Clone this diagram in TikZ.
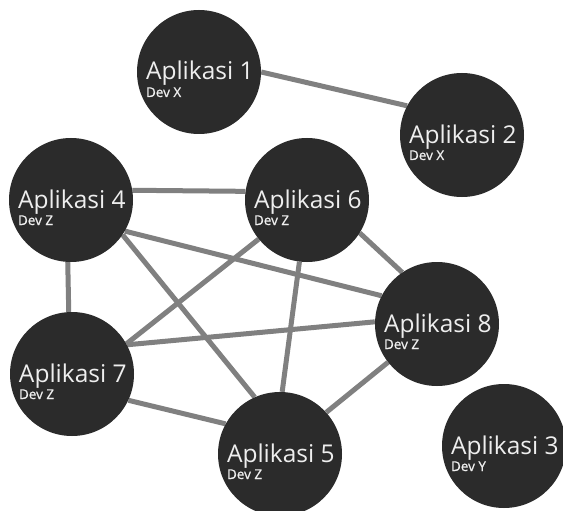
\documentclass[tikz,border=0pt]{standalone}
\usepackage{fontspec}
\setmainfont{Open Sans}
\newfontfamily\devfont[FakeBold=1]{Open Sans}
\pgfdeclarelayer{paper}
\pgfdeclarelayer{bg}
\pgfsetlayers{paper,bg,main}
\definecolor{nodefill}{HTML}{2B2B2B}
\definecolor{edgecol}{HTML}{808080}
\definecolor{txtcol}{HTML}{EEEEEE}
\begin{document}
\begin{tikzpicture}[x=1pt,y=-1pt,
  app/.style={circle,fill=nodefill,draw=none,minimum size=124pt,inner sep=0pt},
  apptext/.style={anchor=base west,inner sep=0pt,text=txtcol,font=\fontsize{24.5}{26}\selectfont},
  devtext/.style={anchor=base west,inner sep=0pt,text=txtcol,font=\devfont\fontsize{13.5}{14}\selectfont},
  link/.style={draw=edgecol,line width=5pt}]
\begin{pgfonlayer}{paper}
\fill[white] (0,0) rectangle (563,511);
\end{pgfonlayer}
\useasboundingbox (0,0) rectangle (563,511);
% circles
\node[app] (a1) at (199,72) {};
\node[app] (a2) at (462,135) {};
\node[app] (a4) at (71,200) {};
\node[app] (a6) at (307,200) {};
\node[app] (a8) at (437,324) {};
\node[app] (a7) at (72,374) {};
\node[app] (a5) at (280,454) {};
\node[app] (a3) at (504,446) {};
% labels
\foreach \n/\t/\d in {a1/1/X,a2/2/X,a4/4/Z,a6/6/Z,a8/8/Z,a7/7/Z,a5/5/Z,a3/3/Y}{
  \node[apptext] (t\n) at ([xshift=9pt,yshift=-8pt]\n.west) {Aplikasi \t};
  \node[devtext] (d\n) at ([yshift=-17pt]t\n.base west) {Dev \d};
}
% connectors
\begin{pgfonlayer}{bg}
\draw[link] (a1.0) -- (a2.152);
\draw[link] (a4.9) -- (a6.172);
\draw[link] (a4.267) -- (a7.93);
\draw[link] (a4.330) -- (a8.153);
\draw[link] (a4.326) -- (a5.114);
\draw[link] (a6.219) -- (a7.29);
\draw[link] (a6.263) -- (a5.88);
\draw[link] (a6.328) -- (a8.124);
\draw[link] (a7.28) -- (a8.178);
\draw[link] (a7.335) -- (a5.151);
\draw[link] (a8.218) -- (a5.42);
\end{pgfonlayer}
\end{tikzpicture}
\end{document}
